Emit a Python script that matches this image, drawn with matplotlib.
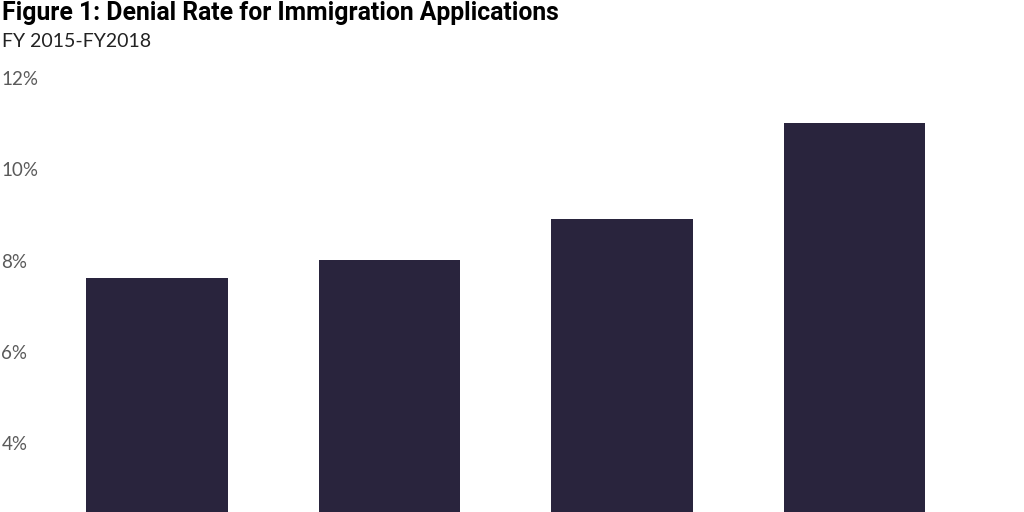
import matplotlib
matplotlib.use("Agg")
import matplotlib.pyplot as plt

# Denial rate by fiscal year (%)
years = ["FY2015", "FY2016", "FY2017", "FY2018"]
rates = [7.61, 8.01, 8.91, 11.02]
ticks = [4, 6, 8, 10, 12]

bar_color = "#29243d"
label_color = "#5a5a5a"

fig = plt.figure(figsize=(10.24, 5.12), dpi=100)
ax = fig.add_axes([0, 0, 1, 1 - 78 / 512])

x = range(len(years))
ax.bar(x, rates, width=0.61, color=bar_color)

ax.set_xlim(-0.675, 3.729)
ax.set_ylim(2.488, 12)
ax.set_xticks([])
ax.set_yticks(ticks)
ax.set_yticklabels([f"{t}%" for t in ticks], fontsize=13.5, color=label_color,
                   family=["Lato", "DejaVu Sans"])
ax.tick_params(axis="y", length=0, pad=-1)
for lbl in ax.get_yticklabels():
    lbl.set_horizontalalignment("left")
for s in ax.spines.values():
    s.set_visible(False)
ax.patch.set_alpha(0)

fig.text(0.002, 1 - 1 / 512, "Figure 1: Denial Rate for Immigration Applications",
         fontsize=17.8, fontweight="bold", va="top", ha="left",
         family=["Roboto", "DejaVu Sans"], color="black")
fig.text(0.002, 1 - 33 / 512, "FY 2015-FY2018", fontsize=14, va="top", ha="left",
         family=["Lato", "DejaVu Sans"], color="#222222")

fig.savefig("out.png", dpi=100)
